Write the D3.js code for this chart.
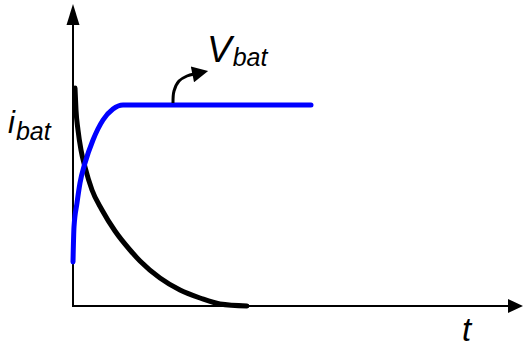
<!DOCTYPE html>
<html>
<head>
<meta charset="utf-8">
<script src="https://cdn.jsdelivr.net/npm/d3@7"></script>
<style>
  body { margin: 0; background: #fff; }
  text { font-family: "Liberation Sans", Arial, sans-serif; font-style: italic; fill: #000; }
</style>
</head>
<body>
<svg id="chart"></svg>
<script>
// time (arbitrary units) and values
var ibatT = [2, 3, 5, 8, 12, 19, 29, 42, 57, 67, 87, 107, 127, 147, 174];
var ibatV = [218, 196, 176, 156, 139, 116, 96, 75, 56, 45, 28, 16, 8, 2, 0];

var vbatT = [0, 1, 4, 7, 12, 20, 30, 40, 50, 238];
var vbatV = [44, 79, 103, 123, 143, 166, 186, 197, 201, 201];

// little curved pointer from the V curve to its label
var pointerT = [100, 101, 106, 114, 121];
var pointerV = [203, 215, 225, 230, 232];

var width = 524, height = 347;
var margin = {top: 4, right: 1, bottom: 41, left: 73};

var svg = d3.select("#chart")
    .attr("width", width)
    .attr("height", height);

var xScale = d3.scaleLinear()
    .domain([0, 450])
    .range([margin.left, width - margin.right]);

var yScale = d3.scaleLinear()
    .domain([0, 302])
    .range([height - margin.bottom, margin.top]);

var defs = svg.append("defs");
defs.append("marker")
    .attr("id", "head")
    .attr("viewBox", "0 0 10 10")
    .attr("refX", 1)
    .attr("refY", 5)
    .attr("markerUnits", "userSpaceOnUse")
    .attr("markerWidth", 22)
    .attr("markerHeight", 16)
    .attr("orient", "auto")
  .append("path")
    .attr("d", "M0,0 L10,5 L0,10 Z")
    .attr("fill", "#000");

// axes, drawn as plain lines with arrow tips
var x0 = xScale(0), y0 = yScale(0);
var xEnd = xScale(450), yEnd = yScale(302);

svg.append("line")
    .attr("x1", x0).attr("y1", y0 + 1)
    .attr("x2", x0).attr("y2", yEnd + 18)
    .attr("stroke", "#000").attr("stroke-width", 2);
svg.append("path")
    .attr("d", "M" + x0 + "," + yEnd + " L" + (x0 + 6.5) + "," + (yEnd + 21) + " L" + (x0 - 6.5) + "," + (yEnd + 21) + " Z")
    .attr("fill", "#000");

svg.append("line")
    .attr("x1", x0 - 1).attr("y1", y0)
    .attr("x2", xEnd - 14).attr("y2", y0)
    .attr("stroke", "#000").attr("stroke-width", 2);
svg.append("path")
    .attr("d", "M" + xEnd + "," + y0 + " L" + (xEnd - 15) + "," + (y0 - 7) + " L" + (xEnd - 15) + "," + (y0 + 7) + " Z")
    .attr("fill", "#000");

var line = d3.line()
    .x(function(d) { return xScale(d[0]); })
    .y(function(d) { return yScale(d[1]); })
    .curve(d3.curveMonotoneX);

var pointerLine = d3.line()
    .x(function(d) { return xScale(d[0]); })
    .y(function(d) { return yScale(d[1]); })
    .curve(d3.curveCatmullRom.alpha(0.5));

var ibat = ibatT.map(function(t, i) { return [t, ibatV[i]]; });
var vbat = vbatT.map(function(t, i) { return [t, vbatV[i]]; });
var pointer = pointerT.map(function(t, i) { return [t, pointerV[i]]; });

svg.append("path")
    .datum(ibat)
    .attr("d", line)
    .attr("fill", "none")
    .attr("stroke", "#000")
    .attr("stroke-width", 5)
    .attr("stroke-linecap", "round");

svg.append("path")
    .datum(vbat)
    .attr("d", line)
    .attr("fill", "none")
    .attr("stroke", "#0000ff")
    .attr("stroke-width", 5)
    .attr("stroke-linecap", "round");

svg.append("path")
    .datum(pointer)
    .attr("d", pointerLine)
    .attr("fill", "none")
    .attr("stroke", "#000")
    .attr("stroke-width", 3)
    .attr("marker-end", "url(#head)");

// labels
var iLab = svg.append("text").attr("x", 8).attr("y", 133);
iLab.append("tspan").attr("font-size", 31).text("i");
iLab.append("tspan").attr("font-size", 25).attr("dy", 7).attr("dx", 1).text("bat");

var vLab = svg.append("text").attr("x", 207).attr("y", 62);
vLab.append("tspan").attr("font-size", 37).text("V");
vLab.append("tspan").attr("font-size", 25).attr("dy", 4).attr("dx", 1).text("bat");

svg.append("text")
    .attr("x", 462).attr("y", 341)
    .attr("font-size", 33)
    .text("t");
</script>
</body>
</html>
